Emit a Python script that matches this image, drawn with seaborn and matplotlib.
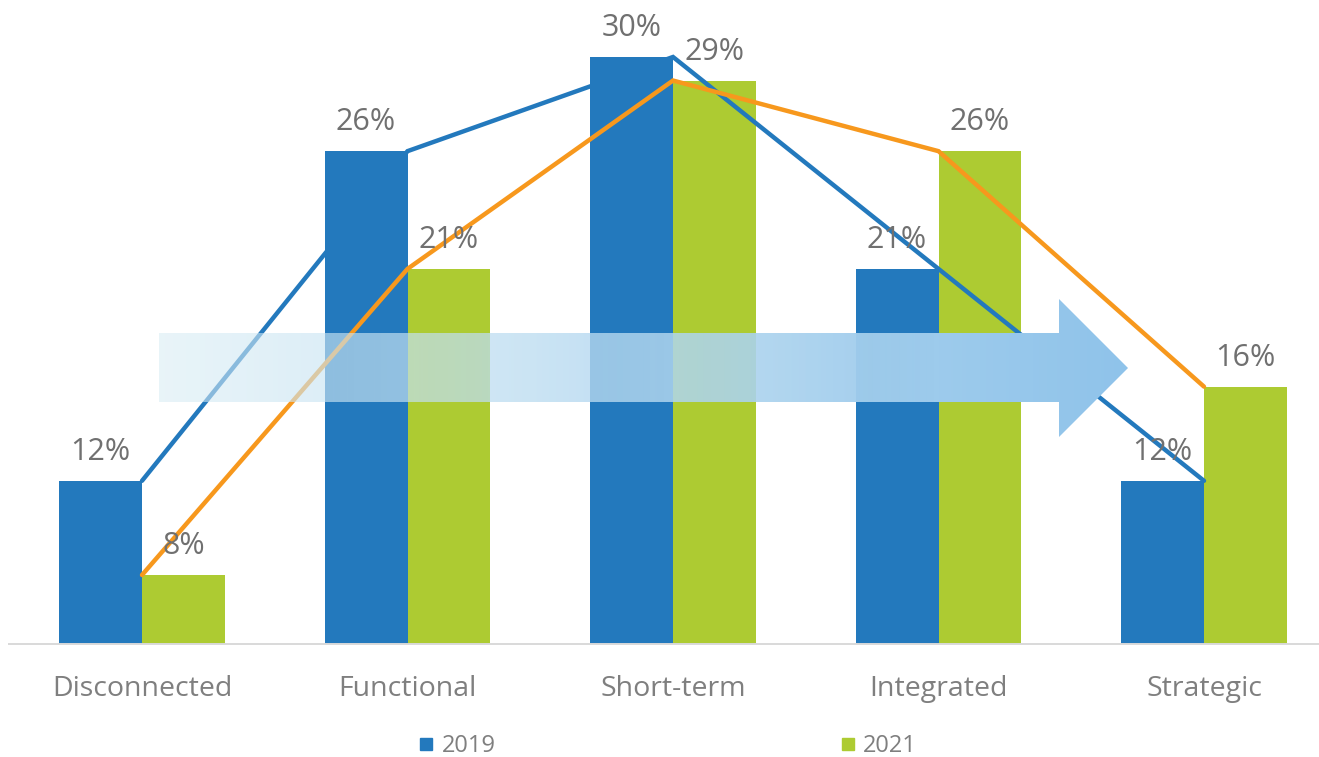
import numpy as np
import pandas as pd
import matplotlib
matplotlib.use("Agg")
import matplotlib.pyplot as plt
from matplotlib.patches import Polygon
from matplotlib.lines import Line2D
import seaborn as sns

# Data
stages = ["Disconnected", "Functional", "Short-term", "Integrated", "Strategic"]
years = ["2019", "2021"]
share_2019 = [12, 26, 30, 21, 12]
share_2021 = [8, 21, 29, 26, 16]

BLUE = "#2379BD"
GREEN = "#ADCB32"
ORANGE = "#F7981D"
LABEL_GRAY = "#707070"
TICK_GRAY = "#7F7F7F"

sns.set_theme(style="white")
plt.rcParams["font.family"] = ["Open Sans", "DejaVu Sans"]

df = pd.DataFrame({
    "stage": stages * 2,
    "year": [years[0]] * len(stages) + [years[1]] * len(stages),
    "share": share_2019 + share_2021,
})

W, H = 1319, 757
fig = plt.figure(figsize=(W / 100, H / 100), dpi=100)
ax = fig.add_axes([9.25 / W, 113 / H, 1327.5 / W, 644 / H])

sns.barplot(data=df, x="stage", y="share", hue="year", order=stages,
            hue_order=years, palette=[BLUE, GREEN], saturation=1,
            width=0.625, legend=False, ax=ax, zorder=1, linewidth=0,
            edgecolor="none")

# Trend lines through the category centres
xpos = np.arange(len(stages))
sns.lineplot(x=xpos, y=share_2019, color=BLUE, lw=3.2, ax=ax, zorder=2,
             solid_joinstyle="miter")
sns.lineplot(x=xpos, y=share_2021, color=ORANGE, lw=3.2, ax=ax, zorder=2,
             solid_joinstyle="miter")

for cont in ax.containers:
    ax.bar_label(cont, fmt="%d%%", padding=10, fontsize=22, color=LABEL_GRAY,
                 zorder=3)

ax.set_xlim(-0.5, 4.5)
ax.set_ylim(5.07, 32.42)
ax.set_xlabel("")
ax.set_ylabel("")
ax.set_yticks([])
ax.tick_params(axis="x", length=0, pad=22, labelsize=20.5, labelcolor=TICK_GRAY)
for side in ("top", "left", "right"):
    ax.spines[side].set_visible(False)
ax.spines["bottom"].set_color("#D9D9D9")
ax.spines["bottom"].set_linewidth(1.4)

# Legend
handles = [Line2D([], [], marker="s", linestyle="none", markersize=9,
                  markerfacecolor=c, markeredgecolor=c) for c in (BLUE, GREEN)]
fig.legend(handles, years, loc="center", bbox_to_anchor=(668 / W, 11 / H),
           ncol=2, frameon=False, fontsize=17, labelcolor=TICK_GRAY,
           handlelength=0.6, handletextpad=0.35, columnspacing=14.6)

# Gradient arrow overlay (pixel space)
ov = fig.add_axes([0, 0, 1, 1])
ov.set_xlim(0, W)
ov.set_ylim(H, 0)
ov.axis("off")
ov.patch.set_alpha(0)

x0, x1 = 159, 1128
ncol = x1 - x0
t = np.linspace(0, 1, ncol)
c_left = np.array([215, 236, 245]) / 255
c_right = np.array([143, 195, 234]) / 255
cols = c_left[None, :] * (1 - t[:, None]) + c_right[None, :] * t[:, None]
alpha = 0.55 + 0.45 * np.clip(t / 0.8, 0, 1)
img = np.zeros((2, ncol, 4))
img[:, :, :3] = cols[None, :, :]
img[:, :, 3] = alpha[None, :]
im = ov.imshow(img, extent=(x0, x1, 437, 299), aspect="auto",
               interpolation="bilinear", zorder=5)
arrow = Polygon([(x0, 333), (1059, 333), (1059, 299), (x1, 368),
                 (1059, 437), (1059, 402), (x0, 402)], closed=True,
                transform=ov.transData, facecolor="none", edgecolor="none")
ov.add_patch(arrow)
im.set_clip_path(arrow)

fig.savefig("out.png", dpi=100)
